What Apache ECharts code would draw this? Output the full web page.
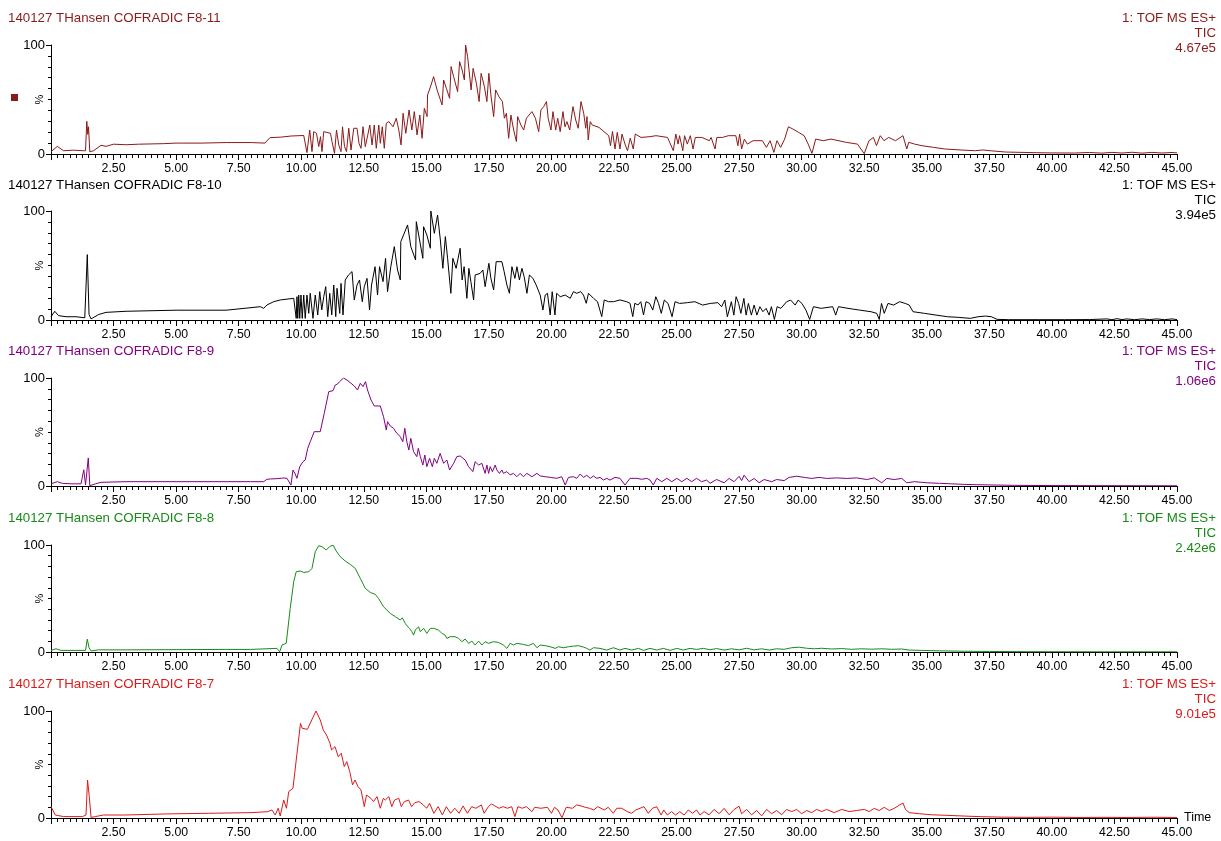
<!DOCTYPE html>
<html>
<head>
<meta charset="utf-8">
<script src="https://cdn.jsdelivr.net/npm/echarts@6/dist/echarts.min.js"></script>
<style>
  html, body { margin: 0; padding: 0; background: #fff; }
  #chart { width: 1221px; height: 841px; }
</style>
</head>
<body>
<div id="chart"></div>
<script>
// Total ion chromatograms, [retention time (min), relative intensity (%)]
const traceF811 = [
  [0,2],[0.25,7],[0.5,3],[0.9,3.5],[1.3,3],[1.38,3],[1.43,30],[1.47,18],[1.5,25],[1.55,2],[1.7,3],[2.0,8],[2.2,7],[2.5,9],[3.0,8.5],[3.5,9],[4.5,9.5],[5.0,10],[6.0,10],[7.0,10.5],[8.0,10.5],[8.55,10],[8.75,15],[9.2,15.5],[9.6,16.5],[10.1,17],
  [10.17,15.9],[10.23,1.3],[10.34,22.0],[10.43,2.2],[10.50,20.5],[10.61,19.0],[10.70,6.8],[10.77,15.9],[10.83,2.2],[10.90,20.5],[11.17,19.0],[11.23,11.4],[11.33,0.6],[11.41,22.0],[11.50,8.3],[11.59,2.2],[11.65,25.0],[11.73,6.8],[11.81,2.2],[11.90,23.6],[11.99,3.7],[12.10,23.6],[12.23,23.6],[12.31,9.8],[12.39,5.2],[12.47,25.0],[12.56,6.8],[12.66,17.5],[12.74,26.6],[12.83,8.3],[12.92,26.6],[13.00,5.2],[13.10,26.6],[13.16,9.8],[13.24,25.0],[13.32,5.2],[13.40,28.2],[13.50,29.7],[13.56,31.2],[13.67,25.0],[13.80,32.8],[13.90,22.0],[13.99,8.3],[14.07,37.3],[14.18,19.0],[14.31,40.4],[14.42,22.0],[14.52,38.9],[14.63,17.5],[14.74,35.8],[14.83,14.4],[14.92,41.9],[15.03,34.3],[15.05,54.2],[15.19,63.3],[15.29,71.0],[15.43,58.8],[15.63,45.0],[15.69,67.9],[15.80,60.3],[15.93,51.1],[15.99,80.2],[16.09,71.0],[16.25,57.2],[16.33,84.8],[16.43,77.1],[16.52,67.9],[16.57,100],[16.65,89.3],[16.79,58.8],[16.87,78.6],[17.00,64.9],[17.11,48.1],[17.19,74.0],[17.32,61.8],[17.42,48.1],[17.50,74.0],[17.58,54.2],[17.69,34.3],[17.77,58.8],[17.90,52.6],[18.04,48.1],[18.12,32.8],[18.20,37.3],[18.29,14.4],[18.38,35.8],[18.49,22.0],[18.60,11.4],[18.65,34.3],[18.78,26.6],[18.89,22.0],[19.00,32.8],[19.22,38.9],[19.36,32.8],[19.49,20.5],[19.58,40.4],[19.69,43.5],[19.80,48.1],[19.87,32.8],[19.98,22.0],[20.06,38.9],[20.17,22.0],[20.25,32.8],[20.35,20.5],[20.46,38.9],[20.54,25.0],[20.62,29.7],[20.73,22.0],[20.86,43.5],[20.97,31.2],[21.07,23.6],[21.18,48.1],[21.29,37.3],[21.37,23.6],[21.42,34.3],[21.47,12.9],[21.55,29.7],[21.63,26.6],
  [21.90,24.4],[22.29,16.8],[22.36,7.6],[22.44,20.7],[22.54,4.6],[22.63,19.8],[22.74,4.6],[22.82,18.3],[22.94,9.1],[23.04,3.0],[23.15,14.6],[23.27,4.6],[23.35,18.3],[23.58,15.2],[23.9,15.8],[24.18,16.8],[24.64,15.2],[24.87,3.0],[24.97,18.3],[25.06,9.1],[25.12,16.8],[25.25,3.0],[25.32,16.8],[25.43,9.1],[25.55,16.8],[25.66,4.6],[25.75,15.2],[26.01,15.2],[26.31,12.2],[26.38,15.2],[26.54,4.6],[26.61,15.2],[26.84,15.2],[27.07,16.8],[27.37,16.8],[27.45,7.6],[27.52,18.3],[27.60,4.6],[27.71,13.7],[27.83,9.1],[28.06,12.2],[28.43,12.2],[28.59,6.1],[28.74,12.2],[28.89,1.5],[29.01,12.2],[29.16,6.1],[29.32,13.7],[29.47,25.0],[29.65,22.9],[29.88,19.8],[30.10,16.8],[30.26,9.1],[30.41,0.6],[30.56,13.7],[30.86,12.2],[31.17,13.7],[31.78,10.7],[32.23,9.1],[32.50,0.3],[32.69,12.2],[32.87,15.2],[32.99,7.6],[33.14,16.8],[33.29,12.2],[33.48,15.2],[33.75,12.2],[34.05,16.8],[34.20,4.6],[34.28,10.7],[34.51,9.1],[34.81,7.6],[35.27,6.1],[35.72,4.6],[36.33,3.7],[36.94,3.0],[37.24,3.7],[37.54,3.0],[38.15,1.8],[39.37,1.2],[40.0,1.0],[40.9,0.9],[41.5,1.4],[42.0,0.8],[42.4,1.5],[42.8,0.9],[43.2,1.6],[43.6,0.8],[44.0,1.5],[44.4,0.9],[44.8,1.4],[45,1.0]
];

const traceF810 = [
  [0,3],[0.15,8],[0.3,4],[0.6,3],[1.0,3],[1.35,2],[1.45,60],[1.52,5],[1.6,1],[1.9,5],[2.2,7],[3.0,8],[5.0,9],[7.0,9],
  [8.37,12.2],[8.50,10.7],[8.63,13.8],[8.90,16.8],[9.17,18.4],[9.70,19.9],[9.76,21.4],[9.80,1.5],[9.83,21.4],[9.86,1.5],[9.90,22.9],[9.94,1.5],[9.99,22.9],[10.04,1.5],[10.10,22.9],[10.16,1.5],[10.23,22.9],[10.30,6.1],[10.36,24.5],[10.47,1.5],[10.56,22.9],[10.66,4.6],[10.74,26.0],[10.82,9.2],[10.90,21.4],[10.98,30.6],[11.06,3.1],[11.14,24.5],[11.22,4.6],[11.30,32.1],[11.38,3.1],[11.43,29.1],[11.54,6.1],[11.59,33.6],[11.67,4.6],[11.76,36.7],[11.89,41.3],[12.03,44.4],[12.12,18.4],[12.23,32.1],[12.33,36.7],[12.44,16.8],[12.52,30.6],[12.63,38.2],[12.73,9.2],[12.81,32.1],[12.95,48.9],[13.05,22.9],[13.13,48.9],[13.27,35.2],[13.37,56.6],[13.45,26.0],[13.58,48.9],[13.72,67.3],[13.85,45.9],[13.96,36.7],[13.98,71.9],[14.09,78.0],[14.25,87.2],[14.38,67.3],[14.57,55.1],[14.60,90.2],[14.73,73.4],[14.86,56.6],[14.89,85.6],[15.02,78.0],[15.16,65.8],[15.18,100],[15.32,79.5],[15.45,96.3],[15.56,73.4],[15.66,47.4],[15.76,76.5],[15.85,56.6],[15.98,24.5],[16.06,56.6],[16.19,47.4],[16.35,65.8],[16.43,36.7],[16.51,48.9],[16.62,19.9],[16.70,47.4],[16.78,35.2],[16.89,18.4],[16.95,41.3],[17.15,42.8],[17.26,45.9],[17.35,30.6],[17.50,52.0],[17.58,38.2],[17.69,27.5],[17.79,53.5],[18.02,53.5],[18.11,44.4],[18.22,32.1],[18.32,24.5],[18.42,48.9],[18.54,38.2],[18.62,48.9],[18.72,36.7],[18.82,47.4],[18.91,39.8],[19.02,24.5],[19.12,41.3],[19.26,38.2],[19.39,32.1],[19.55,22.9],[19.66,9.2],[19.75,22.9],[19.84,24.5],[19.95,4.6],[20.03,26.0],[20.14,4.6],[20.21,24.5],[20.35,21.4],[20.55,22.9],[20.75,19.9],[20.88,26.0],[21.01,24.5],[21.17,26.0],[21.28,22.9],[21.39,15.3],[21.48,24.5],[21.68,19.9],[21.84,16.8],[22.01,3.1],[22.11,18.4],[22.28,16.8],[22.48,16.8],[22.74,18.4],[23.01,16.8],[23.14,15.3],[23.25,3.1],[23.33,15.3],[23.46,13.8],[23.57,16.8],[23.68,4.6],[23.78,16.8],[23.92,15.3],
  [24.05,9.1],[24.17,21.4],[24.28,15.2],[24.39,6.1],[24.51,18.3],[24.66,15.2],[24.82,3.0],[24.94,16.8],[25.12,15.2],[25.43,15.9],[25.73,16.8],[26.04,13.7],[26.35,15.2],[26.65,15.9],[26.80,12.2],[26.93,18.3],[27.03,3.0],[27.19,16.8],[27.29,4.5],[27.38,21.4],[27.48,15.2],[27.57,6.1],[27.69,19.8],[27.78,4.5],[27.87,15.2],[27.99,4.5],[28.10,13.7],[28.21,4.5],[28.33,12.2],[28.45,7.6],[28.58,10.7],[28.70,4.5],[28.79,12.2],[28.91,0.5],[29.02,12.2],[29.17,10.7],[29.40,16.8],[29.56,18.3],[29.74,13.7],[29.86,18.3],[30.01,15.2],[30.17,9.1],[30.32,0.5],[30.47,12.2],[30.78,10.7],[31.24,12.2],[31.36,4.5],[31.47,12.2],[31.85,10.7],[32.31,9.1],[32.77,7.6],[33.00,6.1],[33.10,0.5],[33.19,15.2],[33.30,6.1],[33.45,15.2],[33.68,13.7],[33.91,16.8],[34.14,15.2],[34.30,13.7],[34.45,7.6],[34.91,6.1],[35.37,4.5],[35.83,3.0],[36.28,2.4],[36.74,1.5],[37.05,3.0],[37.35,3.6],[37.58,3.0],[37.81,0.6],[38.27,0.3],[39.49,0.3],[40.5,0.3],[41.5,0.4],[42.2,1],[42.4,0.3],[42.6,1.2],[42.8,0.4],[43.0,1],[43.3,0.3],[43.6,1],[43.9,0.4],[44.2,1],[44.5,0.3],[44.8,1],[45,0.4]
];

const traceF89 = [
  [0,2],[0.25,4],[0.45,2.5],[0.8,2],[1.2,2],[1.31,15],[1.38,1],[1.49,26],[1.55,0.3],[1.78,2],[2.0,3.4],[3.0,4],[5.0,4],[7.0,4],
  [7.97,4.0],[8.50,4.0],[8.63,6.2],[8.77,6.5],[9.03,6.8],[9.30,7.4],[9.43,7.1],[9.50,8.0],[9.59,0.9],[9.67,14.8],[9.76,11.1],[9.83,7.1],[9.94,17.9],[10.07,22.5],[10.16,24.1],[10.26,34.9],[10.36,41.0],[10.52,50.3],[10.76,50.3],[10.92,67.3],[11.10,87.3],[11.27,88.3],[11.36,93.5],[11.45,94.4],[11.53,96.6],[11.69,100],[11.83,98.1],[11.99,95.1],[12.12,92.6],[12.25,88.9],[12.36,95.1],[12.47,92.0],[12.57,96.6],[12.65,88.9],[12.79,79.6],[12.92,74.1],[13.16,74.1],[13.29,64.2],[13.40,51.8],[13.45,59.6],[13.56,55.5],[13.69,53.4],[13.82,48.8],[13.96,45.7],[14.06,41.0],[14.14,53.4],[14.22,41.0],[14.30,33.3],[14.38,44.1],[14.49,31.8],[14.62,27.2],[14.68,34.9],[14.76,27.2],[14.86,19.4],[14.94,28.7],[15.02,17.9],[15.13,25.6],[15.24,17.9],[15.32,25.6],[15.42,21.0],[15.55,30.2],[15.69,21.0],[15.82,24.1],[15.93,14.8],[16.09,21.0],[16.22,27.2],[16.35,27.8],[16.55,24.1],[16.69,17.9],[16.86,13.3],[16.95,22.5],[17.09,19.4],[17.22,21.0],[17.35,11.7],[17.42,19.4],[17.49,11.7],[17.55,17.9],[17.64,13.3],[17.75,19.4],[17.82,14.8],[17.92,11.7],[18.02,14.8],[18.08,11.7],[18.22,13.3],[18.35,10.2],[18.48,11.7],[18.62,8.6],[18.75,11.7],[18.88,8.6],[19.02,11.7],[19.22,8.6],[19.42,11.7],[19.55,9.3],[19.75,8.6],[19.95,8.0],[20.21,7.1],[20.41,8.6],[20.55,0.9],[20.68,8.0],[20.88,8.6],[21.01,7.1],[21.15,11.1],[21.28,8.0],[21.41,9.9],[21.55,7.1],[21.68,9.3],[21.81,7.1],[21.94,8.0],[22.08,5.5],[22.21,7.1],[22.34,5.5],[22.54,8.0],[22.74,7.1],[22.94,0.9],[23.14,7.1],[23.41,7.1],[23.61,6.2],[23.81,7.1],[23.94,5.5],[24.07,0.9],[24.21,7.1],[24.41,4.0],[24.61,7.1],[24.81,4.0],[25.01,7.1],[25.21,4.0],[25.41,7.1],[25.61,4.0],[25.80,7.1],[26.00,4.0],[26.20,5.5],[26.34,2.5],
  [26.6,6],[26.9,3],[27.1,7],[27.3,4],[27.5,9],[27.6,5],[27.7,10],[27.9,4],[28.1,7],[28.3,3],[28.5,6],[28.8,4],[29.0,6],[29.3,5],[29.5,8],[29.8,9],[30.1,8],[30.4,7],[30.7,8],[31.0,7],[31.4,7.5],[31.8,7],[32.2,7.5],[32.6,6],[32.9,7.5],[33.2,3],[33.4,7],[33.7,6],[34.0,7],[34.2,3],[34.5,4],[35,3],[35.5,2.5],[36,2],[36.5,1.5],[37,1.2],[37.5,1],[38.5,0.6],[40,0.4],[42,0.3],[45,0.2]
];

const traceF88 = [
  [0,1.5],[0.2,3],[0.4,1.5],[1.0,1.5],[1.38,1.5],[1.45,12],[1.52,4],[1.6,1],[1.9,2],[3.0,2],[5.0,2.2],[7.0,2.4],
  [7.97,2.4],[9.03,3.4],[9.14,0.3],[9.23,6.5],[9.40,8.1],[9.56,40.8],[9.70,65.7],[9.80,75.0],[9.96,75.7],[10.10,74.4],[10.30,75.0],[10.43,78.1],[10.56,93.7],[10.70,99.3],[10.83,98.4],[11.00,95.3],[11.13,98.4],[11.27,100],[11.40,94.3],[11.56,89.1],[11.76,85.0],[11.96,81.9],[12.16,78.1],[12.36,68.8],[12.56,59.5],[12.76,55.7],[12.96,53.8],[13.09,50.1],[13.29,42.3],[13.56,36.1],[13.76,33.0],[13.96,29.9],[14.04,32.0],[14.16,26.7],[14.22,24.6],[14.33,22.1],[14.42,19.0],[14.49,15.8],[14.56,20.5],[14.69,23.6],[14.76,19.0],[14.89,22.1],[15.02,17.4],[15.16,22.1],[15.29,22.1],[15.49,20.5],[15.62,17.4],[15.75,15.8],[15.82,12.7],[15.95,14.3],[16.15,14.3],[16.29,12.7],[16.42,9.6],[16.55,12.1],[16.69,8.1],[16.82,10.2],[16.95,6.5],[17.09,10.2],[17.22,6.5],[17.35,9.6],[17.49,8.1],[17.68,9.6],[17.88,9.0],[18.08,6.5],[18.22,3.4],[18.35,8.1],[18.48,6.5],[18.62,8.1],[18.88,7.1],[19.08,5.9],[19.28,8.1],[19.42,4.0],[19.55,6.5],[19.75,5.9],[19.95,4.9],[20.15,3.4],[20.28,4.9],[20.48,4.0],[20.68,4.9],[20.88,5.5],[21.08,5.9],[21.28,4.6],[21.41,3.4],[21.54,1.8],[21.68,4.0],[21.94,3.4],[22.21,1.8],[22.48,4.0],[22.74,1.8],[22.94,3.4],[23.21,1.8],[23.48,3.4],[23.68,1.5],[23.94,3.4],[24.21,1.8],[24.47,3.4],[24.74,1.5],[25.01,3.4],[25.27,1.8],[25.54,3.4],[25.80,2.4],[26.07,3.4],[26.34,2.1],
  [26.6,3.2],[26.9,1.8],[27.2,3],[27.5,2],[27.8,3.5],[28.1,2],[28.4,3],[28.7,1.8],[29.0,3],[29.3,2.5],[29.6,4],[29.9,4.5],[30.2,3.5],[30.5,3],[30.8,3.5],[31.2,2.8],[31.6,3.2],[32.0,2.5],[32.4,3],[32.8,2.6],[33.2,3],[33.6,2.5],[34.0,2.8],[34.3,1.8],[34.8,1.5],[35.5,1.1],[36.5,0.7],[37.5,0.5],[39,0.3],[42,0.2],[45,0.2]
];

const traceF87 = [
  [0.0,10.6],[0.17,2.8],[0.51,1.3],[1.26,1.3],[1.40,2.8],[1.46,35.5],[1.53,20.0],[1.60,0.6],[1.77,1.3],[2.10,2.8],[2.94,2.8],[4.62,3.8],[6.30,4.4],[7.99,5.0],[8.66,5.9],[8.83,7.5],[8.96,2.8],[9.08,9.1],[9.16,1.9],[9.30,16.8],[9.41,9.1],[9.50,24.6],[9.67,27.7],[9.97,88.5],[10.04,83.8],[10.25,82.9],[10.42,91.6],[10.59,100],[10.76,91.6],[10.88,82.3],[11.01,77.6],[11.15,69.8],[11.21,63.6],[11.35,66.7],[11.48,57.3],[11.60,60.5],[11.72,48.0],[11.82,52.7],[11.94,43.3],[12.05,30.9],[12.15,35.5],[12.27,29.3],[12.39,26.2],[12.52,10.6],[12.61,21.5],[12.78,18.4],[12.89,15.3],[13.03,20.0],[13.16,9.1],[13.28,18.4],[13.36,16.8],[13.50,20.0],[13.62,10.6],[13.73,16.8],[13.90,18.4],[14.00,10.6],[14.12,15.3],[14.29,16.8],[14.41,10.6],[14.54,14.4],[14.71,15.3],[14.88,12.2],[15.01,9.1],[15.13,13.7],[15.30,4.4],[15.47,10.6],[15.64,2.8],[15.80,10.6],[15.97,4.4],[16.14,9.1],[16.31,4.4],[16.47,11.3],[16.64,4.4],[16.81,10.6],[16.98,9.1],[17.20,12.2],[17.31,4.4],[17.48,10.6],[17.60,13.1],[17.74,11.3],[17.90,9.1],[18.07,10.6],[18.24,9.1],[18.41,10.6],[18.54,1.3],[18.66,10.6],[18.83,9.1],[19.00,10.6],[19.22,5.9],[19.33,10.0],[19.58,9.1],[19.84,10.0],[20.00,4.4],[20.12,10.0],[20.26,7.5],[20.42,0.3],[20.59,10.0],[20.84,9.1],[21.01,12.2],[21.18,11.3],[21.35,10.0],[21.52,9.1],[21.69,7.5],[21.85,10.6],[22.11,7.5],[22.27,10.0],[22.47,4.4],[22.61,9.1],[22.81,9.1],[23.03,6.0],[23.20,4.4],[23.37,7.5],[23.54,9.1],[23.70,10.6],[23.87,4.4],[24.04,9.1],[24.21,10.6],[24.38,2.8],[24.49,7.5],[24.63,2.8],[24.80,5.9],[24.96,2.8],[25.13,5.9],[25.30,2.8],[25.47,7.5],[25.64,4.4],[25.80,7.5],[25.94,2.8],
  [26.1,6],[26.3,3],[26.5,8],[26.7,4],[26.9,9],[27.1,3],[27.3,8],[27.5,11],[27.6,4],[27.8,8],[28.0,3],[28.2,7],[28.4,2],[28.6,8],[28.8,4],[29.0,7],[29.2,3],[29.4,8],[29.6,6],[29.8,8],[30.0,4],[30.2,7],[30.4,5],[30.6,8],[30.8,6],[31.0,8],[31.3,5],[31.6,8],[31.9,6],[32.2,7],[32.5,8],[32.7,6],[32.9,9],[33.1,7],[33.3,10],[33.5,7],[33.7,9],[33.9,12],[34.05,14],[34.15,8],[34.3,5],[34.7,4],[35.2,3],[35.8,2.5],[36.5,1.8],[37.2,1.2],[38,0.8],[39,0.6],[40,0.8],[41,0.5],[42,0.6],[43,0.5],[44,0.7],[45,0.5]
];

// Panel annotations
const sampleNames = [
  '140127 THansen COFRADIC F8-11',
  '140127 THansen COFRADIC F8-10',
  '140127 THansen COFRADIC F8-9',
  '140127 THansen COFRADIC F8-8',
  '140127 THansen COFRADIC F8-7'
];
const scanFunction = '1: TOF MS ES+';
const traceKind = 'TIC';
const maxIntensity = ['4.67e5', '3.94e5', '1.06e6', '2.42e6', '9.01e5'];
const traces = [traceF811, traceF810, traceF89, traceF88, traceF87];
const timeRange = [0, 45];
const timeStep = 2.5;
const yTickLabels = { 0: '0', 100: '100' };
const yUnit = '%';

// Layout
const colors = ['#8b1a1a', '#000000', '#800080', '#178a17', '#dd1a1a'];
const plotTop = [45, 211, 378, 545, 711];
const plotBottom = [154, 320, 486, 652, 818];
const headerY = [18, 185, 351, 518, 684];
const FONT = '"Liberation Sans", Arial, sans-serif';

const chart = echarts.init(document.getElementById('chart'), null, { renderer: 'canvas' });

const grids = [], xAxes = [], yAxes = [], series = [], graphics = [];
traces.forEach((data, i) => {
  grids.push({
    left: 51, right: 44,
    top: plotTop[i], height: plotBottom[i] - plotTop[i],
    containLabel: false, outerBoundsMode: 'none'
  });
  const last = i === traces.length - 1;
  xAxes.push({
    type: 'value', gridIndex: i,
    min: timeRange[0], max: timeRange[1], interval: timeStep,
    name: last ? 'Time' : '', nameLocation: 'end', nameGap: 7,
    nameTextStyle: { fontFamily: FONT, fontSize: 12.5, color: '#000' },
    axisLine: { show: true, onZero: false, lineStyle: { color: '#000', width: 1 } },
    axisTick: { show: true, length: 6, lineStyle: { color: '#000' } },
    minorTick: { show: true, splitNumber: 10, length: 4, lineStyle: { color: '#000' } },
    splitLine: { show: false },
    axisLabel: {
      margin: 9, fontFamily: FONT, fontSize: 12.3, color: '#000',
      formatter: v => (v === 0 ? '' : v.toFixed(2)),
      showMinLabel: true, showMaxLabel: true, hideOverlap: false
    }
  });
  yAxes.push({
    type: 'value', gridIndex: i, min: 0, max: 100, interval: 100,
    axisLine: { show: true, lineStyle: { color: '#000', width: 1 } },
    axisTick: { show: true, length: 5, lineStyle: { color: '#000' } },
    minorTick: { show: true, splitNumber: 10, length: 3, lineStyle: { color: '#000' } },
    splitLine: { show: false },
    axisLabel: {
      margin: 6, fontFamily: FONT, fontSize: 13, color: '#000',
      formatter: v => yTickLabels[v] || ''
    }
  });
  series.push({
    type: 'line', xAxisIndex: i, yAxisIndex: i, data,
    showSymbol: false, symbol: 'none', silent: true,
    lineStyle: { color: colors[i], width: 1 },
    emphasis: { disabled: true }
  });
  const headStyle = (txt, align) => ({
    text: txt, fill: colors[i], font: '13.3px ' + FONT, align, verticalAlign: 'middle'
  });
  graphics.push({ type: 'text', x: 8, y: headerY[i], style: headStyle(sampleNames[i], 'left') });
  graphics.push({ type: 'text', x: 1216, y: headerY[i], style: headStyle(scanFunction, 'right') });
  graphics.push({ type: 'text', x: 1216, y: headerY[i] + 15, style: headStyle(traceKind, 'right') });
  graphics.push({ type: 'text', x: 1216, y: headerY[i] + 30, style: headStyle(maxIntensity[i], 'right') });
  // rotated unit label beside the intensity axis
  graphics.push({
    type: 'text', x: 40, y: (plotTop[i] + plotBottom[i]) / 2, rotation: Math.PI / 2,
    style: { text: yUnit, fill: '#000', font: '11px ' + FONT, align: 'center', verticalAlign: 'middle' }
  });
});

// marker square beside the first trace
graphics.push({ type: 'rect', shape: { x: 11, y: 94, width: 7, height: 7 }, style: { fill: colors[0] } });

chart.setOption({
  animation: false,
  backgroundColor: '#ffffff',
  grid: grids,
  xAxis: xAxes,
  yAxis: yAxes,
  series,
  graphic: graphics
});
</script>
</body>
</html>
